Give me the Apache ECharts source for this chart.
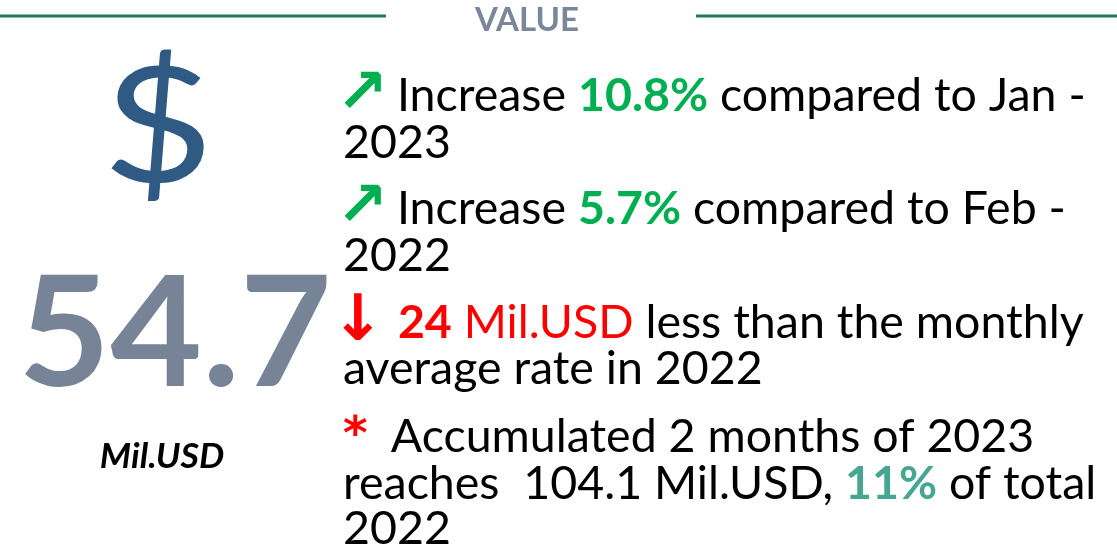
<!DOCTYPE html>
<html><head><meta charset="utf-8">
<script src="https://cdn.jsdelivr.net/npm/echarts@6/dist/echarts.min.js"></script>
<style>html,body{margin:0;padding:0;background:#fff}#c{width:1117px;height:552px}</style>
</head><body><div id="c"></div>
<script>
// ---- data ----
const headerTitle = ['VALUE'];
const mainValue = [54.7];
const unitLabel = ['Mil.USD'];
const changePct = [10.8, 5.7];
const comparePeriods = [['Jan -', '2023'], ['Feb -', '2022']];
const belowAverage = [24];
const accumulatedMonths = [2];
const accumulatedValue = [104.1];
const shareOfTotal = [11];
const years = [2022, 2023];

// ---- style ----
const FONT = 'Lato';
const FS = 46.5;
const green = '#00b050', red = '#ff0000', teal = '#45a691';
const rich = {
  up: {fontFamily: 'DejaVu Sans', fontWeight: 'bold', fontSize: 62, fill: green, width: 49, align: 'left'},
  dn: {fontFamily: 'DejaVu Sans', fontWeight: 'bold', fontSize: 64, fill: red, width: 55, align: 'left'},
  st: {fontFamily: 'DejaVu Sans', fontWeight: 'bold', fontSize: 47, fill: red, width: 24, align: 'left'},
  g: {fontFamily: FONT, fontWeight: 'bold', fontSize: FS, fill: green},
  rb: {fontFamily: FONT, fontWeight: 'bold', fontSize: FS, fill: red},
  r: {fontFamily: FONT, fontSize: FS, fill: red},
  t: {fontFamily: FONT, fontWeight: 'bold', fontSize: FS, fill: teal}
};

const lines = [
  `{up|↗} Increase {g|${changePct[0]}%} compared to ${comparePeriods[0][0]}`,
  `${comparePeriods[0][1]}`,
  `{up|↗} Increase {g|${changePct[1]}%} compared to ${comparePeriods[1][0]}`,
  `${comparePeriods[1][1]}`,
  `{dn|↓} {rb|${belowAverage[0]}} {r|${unitLabel[0]}} less than the monthly`,
  `average rate in ${years[0]}`,
  `{st|*}  Accumulated ${accumulatedMonths[0]} months of ${years[1]}`,
  `reaches  ${accumulatedValue[0]} ${unitLabel[0]}, {t|${shareOfTotal[0]}%} of total`,
  `${years[0]}`
];
const baselines = [110, 157, 223, 270, 337, 383, 451, 498, 543];
// glyph side-bearing compensation for lines starting with a symbol
const lineX = [336, 343, 336, 343, 331, 343, 343, 343, 343];

const graphic = [
  {type: 'line', shape: {x1: 0, y1: 16, x2: 386, y2: 16}, style: {stroke: '#1f7a5c', lineWidth: 3}},
  {type: 'line', shape: {x1: 696, y1: 16, x2: 1117, y2: 16}, style: {stroke: '#1f7a5c', lineWidth: 3}},
  {type: 'text', x: 527, y: 20, style: {text: headerTitle[0], font: 'bold 33px ' + FONT, fill: '#7a8699', align: 'center', verticalAlign: 'middle'}},
  {type: 'text', x: 158, y: 130, scaleX: 1.2, style: {text: '$', font: '161px ' + FONT, fill: '#2f5a83', align: 'center', verticalAlign: 'middle'}},
  {type: 'text', x: 175, y: 336, scaleX: 1.03, style: {text: String(mainValue[0]), font: 'bold 154px ' + FONT, fill: '#778497', align: 'center', verticalAlign: 'middle'}},
  {type: 'text', x: 162, y: 457, scaleX: 1.05, style: {text: unitLabel[0], font: 'italic bold 34px ' + FONT, fill: '#000', align: 'center', verticalAlign: 'middle'}}
];
lines.forEach((t, i) => {
  graphic.push({type: 'text', x: lineX[i], y: baselines[i] - 0.387 * FS + 4,
    style: {text: t, fontFamily: FONT, fontSize: FS, fill: '#000', align: 'left', verticalAlign: 'middle', rich: rich}});
});

const chart = echarts.init(document.getElementById('c'), null, {renderer: 'canvas'});
chart.setOption({backgroundColor: '#fff', animation: false, graphic: graphic});
</script></body></html>
